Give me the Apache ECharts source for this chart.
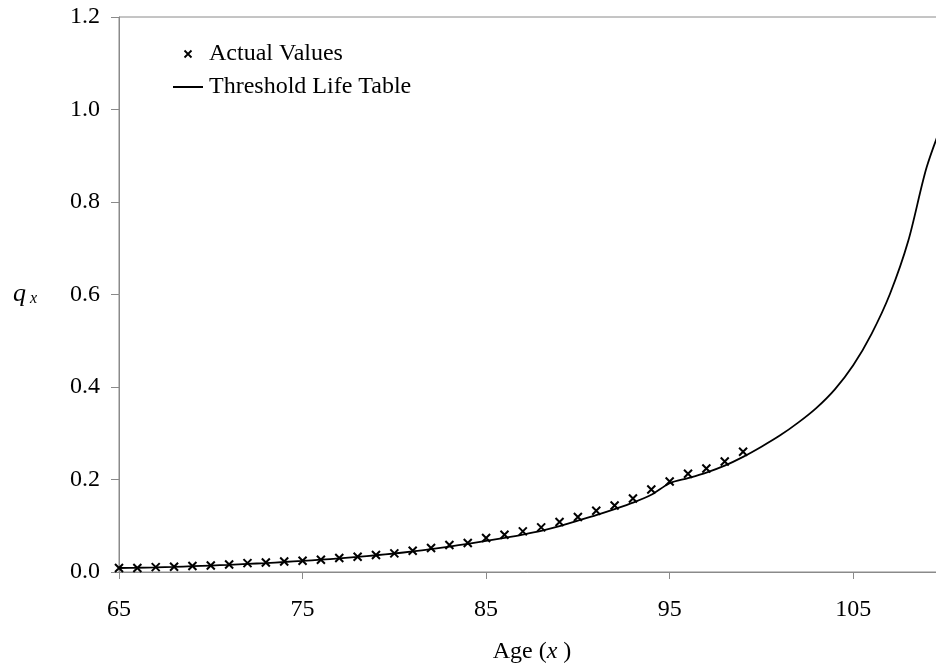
<!DOCTYPE html>
<html>
<head>
<meta charset="utf-8">
<script src="https://cdn.jsdelivr.net/npm/echarts@6/dist/echarts.min.js"></script>
<style>
html,body{margin:0;padding:0;background:#fff;}
#chart{width:936px;height:667px;}
</style>
</head>
<body>
<div id="chart"></div>
<script>
var actualAges = [65,66,67,68,69,70,71,72,73,74,75,76,77,78,79,80,81,82,83,84,85,86,87,88,89,90,91,92,93,94,95,96,97,98,99];
var actualValues = [0.0086,0.0088,0.0105,0.0113,0.0128,0.0142,0.0163,0.0192,0.0206,0.0228,0.0244,0.0266,0.0302,0.0330,0.0367,0.0402,
  0.0460,0.0519,0.0583,0.0626,0.0734,0.0806,0.0878,0.0965,0.1080,0.1188,0.1324,0.1439,0.1590,0.1785,0.1957,0.2124,0.2238,0.2390,0.2600];
var tableAges = [65,66,67,68,69,70,71,72,73,74,75,76,77,78,79,80,81,82,83,84,85,86,87,88,89,90,91,92,93,94,95,96,97,98,99,100,101,102,103,104,105,106,107,108,109,110];
var tableValues = [0.0086,0.0092,0.0101,0.0112,0.0125,0.0139,0.0155,0.0174,0.0194,0.0216,0.0240,0.0266,0.0295,0.0327,0.0362,0.0400,
  0.0445,0.0495,0.0550,0.0610,0.0675,0.0740,0.0810,0.0890,0.0990,0.1110,0.1230,0.1360,0.1500,0.1670,0.1920,0.2030,0.2150,0.2300,0.2490,
  0.2710,0.2950,0.3230,0.3550,0.3950,0.4470,0.5150,0.6010,0.7160,0.8750,0.9850];
var xTickLabels = [65,75,85,95,105];
var seriesNames = ['Actual Values','Threshold Life Table'];

var FONT = "'Liberation Serif','Times New Roman',serif";
var AXIS_COLOR = '#8a8a8a';
var CROSS = 'path://M0,0L10,10M10,0L0,10';

var chart = echarts.init(document.getElementById('chart'), null, {renderer:'canvas'});
chart.setOption({
  backgroundColor:'#fff',
  animation:false,
  textStyle:{fontFamily:FONT,color:'#000'},
  grid:{left:119,top:17,bottom:95,right:-9,show:true,borderColor:AXIS_COLOR,borderWidth:1,outerBoundsMode:'none',containLabel:false},
  legend:{
    orient:'vertical',left:167,top:37,padding:5,itemWidth:30,itemHeight:7,itemGap:9,
    textStyle:{fontFamily:FONT,fontSize:24,color:'#000',lineHeight:24,padding:[0,0,0,1]},
    data:[
      {name:seriesNames[0],icon:CROSS,itemStyle:{color:'#000',borderColor:'#000',borderWidth:1.8}},
      {name:seriesNames[1],itemStyle:{color:'transparent',borderColor:'transparent',borderWidth:0,opacity:0}}
    ]
  },
  xAxis:{
    type:'value',min:65,max:110,
    name:'{n|Age (}{i|x}{n| )}',nameLocation:'middle',nameGap:68,
    nameTextStyle:{rich:{n:{fontFamily:FONT,fontSize:24,color:'#000'},i:{fontFamily:FONT,fontSize:24,fontStyle:'italic',color:'#000'}}},
    axisLine:{show:true,lineStyle:{color:AXIS_COLOR,width:1}},
    axisTick:{show:true,inside:false,length:7,lineStyle:{color:AXIS_COLOR},customValues:xTickLabels},
    axisLabel:{fontFamily:FONT,fontSize:24,color:'#000',margin:26,customValues:xTickLabels},
    splitLine:{show:false}
  },
  yAxis:{
    type:'value',min:0,max:1.2,interval:0.2,
    name:'{q|q}{s| x}',nameLocation:'middle',nameRotate:0,nameGap:82,
    nameTextStyle:{rich:{q:{fontFamily:FONT,fontSize:26,fontStyle:'italic',color:'#000',lineHeight:24},s:{fontFamily:FONT,fontSize:16,fontStyle:'italic',color:'#000',lineHeight:10,verticalAlign:'bottom'}}},
    axisLine:{show:true,lineStyle:{color:AXIS_COLOR,width:1}},
    axisTick:{show:true,inside:false,length:8,lineStyle:{color:AXIS_COLOR}},
    axisLabel:{fontFamily:FONT,fontSize:24,color:'#000',margin:19,formatter:function(v){return v.toFixed(1);}},
    splitLine:{show:false}
  },
  series:[
    {
      name:seriesNames[1],type:'line',
      data:tableAges.map(function(a,i){return [a,tableValues[i]];}),
      symbol:'none',smooth:0.3,
      lineStyle:{color:'#000',width:1.8},
      itemStyle:{color:'#000'},
      z:2
    },
    {
      name:seriesNames[0],type:'scatter',
      data:actualAges.map(function(a,i){return [a,actualValues[i]];}),
      symbol:CROSS,symbolSize:8,
      itemStyle:{color:'#000',borderColor:'#000',borderWidth:2,opacity:1},
      z:3
    }
  ]
});
</script>
</body>
</html>
